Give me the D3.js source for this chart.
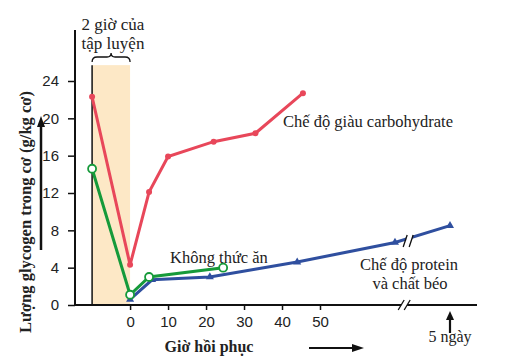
<!DOCTYPE html>
<html><head><meta charset="utf-8">
<script src="https://cdn.jsdelivr.net/npm/d3@7"></script>
<style>body{margin:0;background:#fff}svg{display:block}</style>
</head><body><svg id="c" width="506" height="358"></svg>
<script>
const yTicks = [0, 4, 8, 12, 16, 20, 24];
const xTicks = [0, 10, 20, 30, 40, 50];
const exerciseStart = -10;
const carbHours = [-10, 0, 5, 10, 22, 33, 45.5];
const carbValues = [22.3, 4.3, 12.1, 15.9, 17.5, 18.4, 22.7];
const fastHours = [-10, 0, 5, 24.5];
const fastValues = [14.6, 1.1, 3.0, 4.0];
const protHours = [0, 5.8, 21, 44, 96, 120];
const protValues = [0.6, 2.7, 3.0, 4.6, 6.7, 8.5];
const breakHour = 100;
const fiveDays = 120;

const svg = d3.select("#c");
const x = d3.scaleLinear().domain([-14.5, 50, 96, 120, 131]).range([75, 320, 395, 450, 475]);
const y = d3.scaleLinear().domain([0, 24]).range([305, 81]);
const serif = "'Liberation Serif','Times New Roman',serif";
const sans = "'Liberation Sans',Arial,sans-serif";

// exercise shading
svg.append("rect").attr("x", x(exerciseStart)).attr("y", y(25.7))
  .attr("width", x(0) - x(exerciseStart)).attr("height", y(0) - y(25.7))
  .attr("fill", "#fde8c6");
svg.append("line").attr("x1", x(exerciseStart)).attr("x2", x(exerciseStart))
  .attr("y1", y(25.7)).attr("y2", y(0)).attr("stroke", "#111").attr("stroke-width", 1.5);

// brace
{
  const a = x(exerciseStart), b = x(0), m = (a + b) / 2, yb = 62;
  svg.append("path").attr("d",
    `M${a},${yb} Q${a},${yb-5} ${a+5},${yb-5} L${m-4},${yb-5} Q${m},${yb-5} ${m},${yb-9} Q${m},${yb-5} ${m+4},${yb-5} L${b-5},${yb-5} Q${b},${yb-5} ${b},${yb}`)
    .attr("fill", "none").attr("stroke", "#111").attr("stroke-width", 1.3);
}
svg.append("text").attr("x", 113).attr("y", 30).attr("text-anchor", "middle")
  .attr("font-family", serif).attr("font-size", 17).attr("fill", "#222").text("2 giờ của");
svg.append("text").attr("x", 113).attr("y", 49).attr("text-anchor", "middle")
  .attr("font-family", serif).attr("font-size", 17).attr("fill", "#222").text("tập luyện");

// y axis
const yAxis = svg.append("g").attr("transform", `translate(75,0)`)
  .call(d3.axisLeft(y).tickValues(yTicks).tickSize(7).tickPadding(9));
yAxis.select(".domain").remove();
yAxis.append("line").attr("x1", 0).attr("x2", 0).attr("y1", 30).attr("y2", 306)
  .attr("stroke", "#111").attr("stroke-width", 2);
yAxis.selectAll(".tick line").attr("stroke", "#111").attr("stroke-width", 1.5);
yAxis.selectAll("text").attr("font-family", sans).attr("font-size", 15).attr("fill", "#222");

// x axis
const xAxis = svg.append("g").attr("transform", `translate(0,305)`)
  .call(d3.axisBottom(x).tickValues(xTicks).tickSize(5).tickPadding(6).tickFormat(d3.format("d")));
xAxis.select(".domain").remove();
xAxis.selectAll(".tick line").attr("stroke", "#111").attr("stroke-width", 1.5);
xAxis.selectAll("text").attr("font-family", sans).attr("font-size", 15).attr("fill", "#222");
const bx = x(breakHour);
xAxis.append("line").attr("x1", 75).attr("x2", bx - 3).attr("y1", 0).attr("y2", 0)
  .attr("stroke", "#111").attr("stroke-width", 2);
xAxis.append("line").attr("x1", bx + 3).attr("x2", 477).attr("y1", 0).attr("y2", 0)
  .attr("stroke", "#111").attr("stroke-width", 2);
[-3, 3].forEach(o => xAxis.append("line").attr("x1", bx + o - 3).attr("x2", bx + o + 3)
  .attr("y1", 5).attr("y2", -5).attr("stroke", "#111").attr("stroke-width", 1.3));

// 5 days arrow
svg.append("line").attr("x1", x(fiveDays)).attr("x2", x(fiveDays)).attr("y1", 333).attr("y2", 318)
  .attr("stroke", "#111").attr("stroke-width", 2.2);
svg.append("path").attr("d", `M${x(fiveDays)-4},${320} L${x(fiveDays)},${311} L${x(fiveDays)+4},${320} Z`).attr("fill", "#111");
svg.append("text").attr("x", x(fiveDays)).attr("y", 342).attr("text-anchor", "middle")
  .attr("font-family", serif).attr("font-size", 16).attr("fill", "#222").text("5 ngày");

// x title & arrow
svg.append("text").attr("x", 209).attr("y", 352).attr("text-anchor", "middle")
  .attr("font-family", serif).attr("font-weight", "bold").attr("font-size", 16).attr("fill", "#222").text("Giờ hồi phục");
svg.append("line").attr("x1", 309).attr("x2", 356).attr("y1", 348).attr("y2", 348)
  .attr("stroke", "#111").attr("stroke-width", 2);
svg.append("path").attr("d", "M352,344 L364,348 L352,352 Z").attr("fill", "#111");

// y title & arrow
svg.append("text").attr("transform", "translate(31,212) rotate(-90)").attr("text-anchor", "middle")
  .attr("font-family", serif).attr("font-weight", "bold").attr("font-size", 16.5).attr("fill", "#222")
  .text("Lượng glycogen trong cơ (g/kg cơ)");
svg.append("line").attr("x1", 41).attr("x2", 41).attr("y1", 250).attr("y2", 125)
  .attr("stroke", "#111").attr("stroke-width", 2.5);
svg.append("path").attr("d", "M37,127 L41,116 L45,127 Z").attr("fill", "#111");

// lines
const line = d3.line().x(d => x(d[0])).y(d => y(d[1]));
const carb = carbHours.map((h, i) => [h, carbValues[i]]);
const fast = fastHours.map((h, i) => [h, fastValues[i]]);
const prot = protHours.map((h, i) => [h, protValues[i]]);
const red = "#e8475a", green = "#169a3a", blue = "#2f4f9f";

svg.append("path").datum(prot).attr("d", line).attr("fill", "none").attr("stroke", blue).attr("stroke-width", 3);
svg.selectAll(".pm").data(prot).join("path").attr("class", "pm")
  .attr("transform", d => `translate(${x(d[0])},${y(d[1])})`)
  .attr("d", d3.symbol(d3.symbolTriangle, 28)).attr("fill", blue);
// break on blue line
{
  const i = 4, p0 = prot[i - 1], p1 = prot[i];
  const t = (breakHour - p0[0]) / (p1[0] - p0[0]);
  const by = y(p0[1] + t * (p1[1] - p0[1]));
  svg.append("rect").attr("x", bx + 2).attr("y", by - 6).attr("width", 6).attr("height", 12).attr("fill", "#fff");
  [0, 6].forEach(o => svg.append("line").attr("x1", bx + o - 1).attr("x2", bx + o + 3)
    .attr("y1", by + 6).attr("y2", by - 6).attr("stroke", "#111").attr("stroke-width", 1.3));
}

svg.append("path").datum(carb).attr("d", line).attr("fill", "none").attr("stroke", red).attr("stroke-width", 3);
svg.selectAll(".rm").data(carb).join("circle").attr("class", "rm")
  .attr("cx", d => x(d[0])).attr("cy", d => y(d[1])).attr("r", 3).attr("fill", red);

svg.append("path").datum(fast).attr("d", line).attr("fill", "none").attr("stroke", green).attr("stroke-width", 3);
svg.selectAll(".gm").data(fast).join("circle").attr("class", "gm")
  .attr("cx", d => x(d[0])).attr("cy", d => y(d[1])).attr("r", 4)
  .attr("fill", "#fff").attr("stroke", green).attr("stroke-width", 1.8);

// labels
const lab = (t, xx, yy, anchor) => svg.append("text").attr("x", xx).attr("y", yy)
  .attr("text-anchor", anchor || "start").attr("font-family", serif).attr("font-size", 16.5)
  .attr("fill", "#222").text(t);
lab("Chế độ giàu carbohydrate", 283, 127);
lab("Không thức ăn", 170, 263);
lab("Chế độ protein", 409, 270, "middle");
lab("và chất béo", 410, 289, "middle");
</script></body></html>
